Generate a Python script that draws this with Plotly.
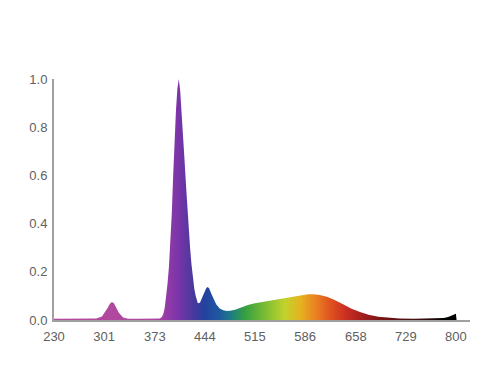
import plotly.graph_objects as go

# Spectrum (wavelength nm, relative intensity)
wavelength = [230, 245, 252, 257, 262, 275, 290, 298, 302, 306, 309, 312, 315, 318, 322, 328, 335,
              350, 370, 380, 383, 385, 387, 389, 391, 393, 395, 397, 399, 401, 403, 405, 407,
              409, 411, 413, 415, 417, 419, 421, 423, 425, 427, 429, 431, 434, 437, 440, 443,
              446, 448, 450, 453, 456, 460, 465, 470, 475, 480, 487, 495, 505, 515, 530, 545,
              560, 572, 582, 590, 598, 607, 617, 628, 640, 652, 664, 676, 690, 705, 720, 740,
              760, 775, 783, 789, 794, 798, 800, 801]
intensity = [0.005, 0.005, 0.006, 0.008, 0.006, 0.005, 0.006, 0.015, 0.03, 0.05, 0.066, 0.075, 0.07,
             0.052, 0.03, 0.01, 0.005, 0.005, 0.005, 0.006, 0.012, 0.025, 0.05, 0.09, 0.15, 0.22,
             0.31, 0.44, 0.6, 0.75, 0.87, 0.96, 1.0, 0.95, 0.87, 0.77, 0.67, 0.57, 0.47, 0.38,
             0.3, 0.23, 0.17, 0.13, 0.1, 0.07, 0.072, 0.09, 0.115, 0.133, 0.137, 0.132, 0.11,
             0.088, 0.065, 0.048, 0.04, 0.037, 0.038, 0.043, 0.052, 0.062, 0.069, 0.076, 0.083,
             0.09, 0.096, 0.103, 0.107, 0.107, 0.104, 0.096, 0.083, 0.065, 0.047, 0.033, 0.022,
             0.013, 0.008, 0.006, 0.005, 0.005, 0.006, 0.008, 0.012, 0.018, 0.024, 0.026, 0.0]

x_ticks = [230, 301, 373, 444, 515, 586, 658, 729, 800]
y_ticks = [0.0, 0.2, 0.4, 0.6, 0.8, 1.0]

# colour of the fill by wavelength
stop_nm = [230, 370, 385, 407, 430, 444, 465, 480, 501, 536, 557, 579, 600, 621, 643, 671, 706, 749, 785, 820]
stop_col = ["#b24a9e", "#b0479f", "#9c3ea6", "#7834a8", "#43399c", "#2342a0", "#1f5a9e", "#1c7a88",
            "#35a040", "#8cc232", "#c2d22e", "#e4b420", "#ea8422", "#e05420", "#cc3022", "#9c1c1c",
            "#6a1212", "#401010", "#000000", "#000000"]
lo, hi = 230, 820
colorscale = [[(s - lo) / (hi - lo), c] for s, c in zip(stop_nm, stop_col)]

fig = go.Figure()
fig.add_trace(go.Scatter(
    x=wavelength, y=intensity, mode="lines", fill="tozeroy",
    line=dict(width=0, color="rgba(0,0,0,0)"),
    fillgradient=dict(type="horizontal", colorscale=colorscale, start=lo, stop=hi),
    hoverinfo="skip", showlegend=False,
))

fig.update_layout(
    width=494, height=370,
    margin=dict(l=46, r=32, t=71, b=58),
    paper_bgcolor="white", plot_bgcolor="white",
    font=dict(family="Liberation Sans, Arial, sans-serif", size=13, color="#606060"),
)
fig.update_xaxes(
    range=[lo, hi], tickvals=x_ticks, ticktext=[str(v) for v in x_ticks],
    showgrid=False, zeroline=False, showline=True, linecolor="#a0a0a0", linewidth=1.5,
    ticks="outside", ticklen=4, tickcolor="rgba(0,0,0,0)",
)
fig.update_yaxes(
    range=[0, 1.0], tickvals=y_ticks, ticktext=[f"{v:.1f}" for v in y_ticks],
    showgrid=False, zeroline=False, showline=True, linecolor="#a0a0a0", linewidth=2,
    ticks="outside", ticklen=2, tickcolor="rgba(0,0,0,0)",
)

fig.write_html("out.html")
